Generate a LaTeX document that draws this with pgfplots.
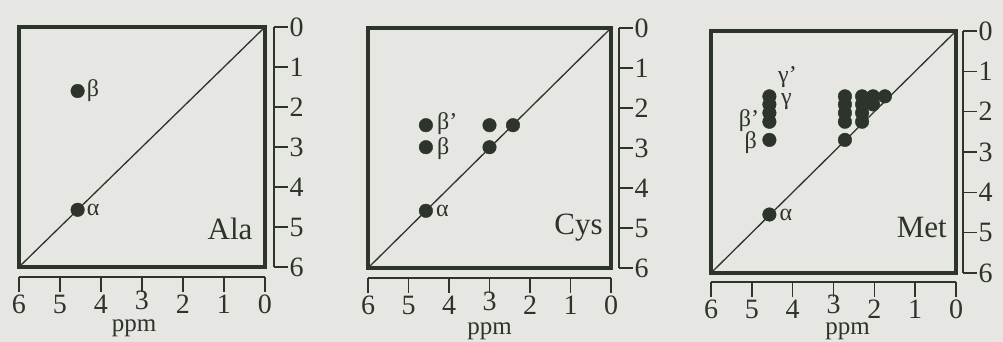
\documentclass[border=0pt]{standalone}
\usepackage{pgfplots}
\pgfplotsset{compat=1.18}
\usepackage{pgfplotstable}
\usepackage{fontspec}
\setmainfont{Liberation Serif}

\definecolor{ink}{HTML}{2C342C}
\definecolor{paper}{HTML}{E6E6E2}

% cross peaks and diagonal peaks (ppm, ppm)
\pgfplotstableread{
x y
4.57 1.60
4.57 4.57
}\ala
\pgfplotstableread{
x y
4.57 2.43
4.57 2.98
4.57 4.57
3.00 2.43
3.00 2.98
2.42 2.43
}\cys
\pgfplotstableread{
x y
4.57 1.62
4.57 1.82
4.57 2.03
4.57 2.25
4.57 2.70
4.57 4.55
2.72 1.62
2.72 1.82
2.72 2.03
2.72 2.25
2.72 2.70
2.30 1.62
2.30 1.82
2.30 2.03
2.30 2.25
2.03 1.62
2.03 1.82
1.74 1.62
}\met

\pgfplotsset{
  base/.style={scale only axis, xmin=0, xmax=6, ymin=0, ymax=6, clip=false},
  boxax/.style={base, x dir=reverse, y dir=reverse, xtick=\empty, ytick=\empty,
    axis line style={ink, line width=3.5pt, line join=miter}},
  % the "3" sits a little higher so that "ppm" fits beneath it
  xax/.style={base, x dir=reverse, axis x line=bottom, axis y line=none,
    xtick={0,1,2,3,4,5,6}, xticklabels={0,1,2,\raisebox{5pt}{3},4,5,6}, ytick=\empty,
    tick align=outside, major tick length=15pt,
    x axis line style={-, ink, line width=1.6pt},
    tick style={ink, line width=1.6pt},
    xticklabel style={font=\fontsize{28}{28}\selectfont, text=ink, inner sep=0pt,
      anchor=base, yshift=-22pt}},
  yax/.style={base, y dir=reverse, axis y line=right, axis x line=none,
    ytick={0,1,2,3,4,5,6}, yticklabels={0,1,2,3,4,5,6}, xtick=\empty,
    tick align=outside, major tick length=14pt,
    y axis line style={-, ink, line width=1.6pt},
    tick style={ink, line width=1.6pt},
    yticklabel style={font=\fontsize{28}{28}\selectfont, text=ink, inner sep=1.5pt}},
  peaks/.style={only marks, mark=*, mark size=6.8pt, ink, mark options={draw=ink, fill=ink}},
  diag/.style={ink, line width=1.3pt},
}
\tikzset{
  greek/.style={font=\fontsize{24}{24}\selectfont, text=ink, inner sep=0pt},
  name/.style={font=\fontsize{31}{31}\selectfont, text=ink, inner sep=0pt, anchor=base east},
  ppm/.style={font=\fontsize{25}{25}\selectfont, text=ink, inner sep=0pt, anchor=base},
}

\begin{document}
\begin{tikzpicture}
\fill[paper] (0pt,0pt) rectangle (1003pt,342pt);
\useasboundingbox (0pt,0pt) rectangle (1003pt,342pt);

% ---- Ala ----
\begin{axis}[boxax, at={(19pt,75pt)}, anchor=south west, width=246pt, height=240pt]
  \addplot[diag] coordinates {(0,0) (6,6)};
  \addplot[peaks] table[x=x, y=y] {\ala};
  \node[greek, anchor=west] at (axis cs:4.57,1.60) [xshift=9pt] {β};
  \node[greek, anchor=west] at (axis cs:4.57,4.57) [xshift=9pt] {α};
  \node[name] at (axis cs:0.30,5.32) {Ala};
\end{axis}
\begin{axis}[xax, at={(19pt,65pt)}, anchor=south west, width=246pt, height=240pt]
  \node[ppm] at (axis cs:3,0) [xshift=-8pt, yshift=-55pt] {ppm};
\end{axis}
\begin{axis}[yax, at={(28pt,75pt)}, anchor=south west, width=246pt, height=240pt]
\end{axis}

% ---- Cys ----
\begin{axis}[boxax, at={(368pt,74pt)}, anchor=south west, width=243pt, height=240pt]
  \addplot[diag] coordinates {(0,0) (6,6)};
  \addplot[peaks] table[x=x, y=y] {\cys};
  \node[greek, anchor=west] at (axis cs:4.57,2.40) [xshift=11pt] {β’};
  \node[greek, anchor=west] at (axis cs:4.57,3.02) [xshift=11pt] {β};
  \node[greek, anchor=west] at (axis cs:4.57,4.57) [xshift=10pt] {α};
  \node[name] at (axis cs:0.20,5.17) {Cys};
\end{axis}
\begin{axis}[xax, at={(368pt,64pt)}, anchor=south west, width=243pt, height=240pt]
  \node[ppm] at (axis cs:3,0) [yshift=-57pt] {ppm};
\end{axis}
\begin{axis}[yax, at={(376pt,74pt)}, anchor=south west, width=243pt, height=240pt]
\end{axis}

% ---- Met ----
\begin{axis}[boxax, at={(711pt,69pt)}, anchor=south west, width=245pt, height=242pt]
  \addplot[diag] coordinates {(0,0) (6,6)};
  \addplot[peaks] table[x=x, y=y] {\met};
  \node[greek, anchor=west] at (axis cs:4.36,1.14) {γ’};
  \node[greek, anchor=west] at (axis cs:4.29,1.76) {γ};
  \node[greek, anchor=east] at (axis cs:4.82,2.21) {β’};
  \node[greek, anchor=east] at (axis cs:4.87,2.76) {β};
  \node[greek, anchor=west] at (axis cs:4.57,4.55) [xshift=10pt] {α};
  \node[name] at (axis cs:0.22,5.11) {Met};
\end{axis}
\begin{axis}[xax, at={(711pt,60pt)}, anchor=south west, width=245pt, height=242pt]
  \node[ppm] at (axis cs:3,0) [xshift=14pt, yshift=-53pt] {ppm};
\end{axis}
\begin{axis}[yax, at={(718pt,69pt)}, anchor=south west, width=245pt, height=242pt]
\end{axis}
\end{tikzpicture}
\end{document}
